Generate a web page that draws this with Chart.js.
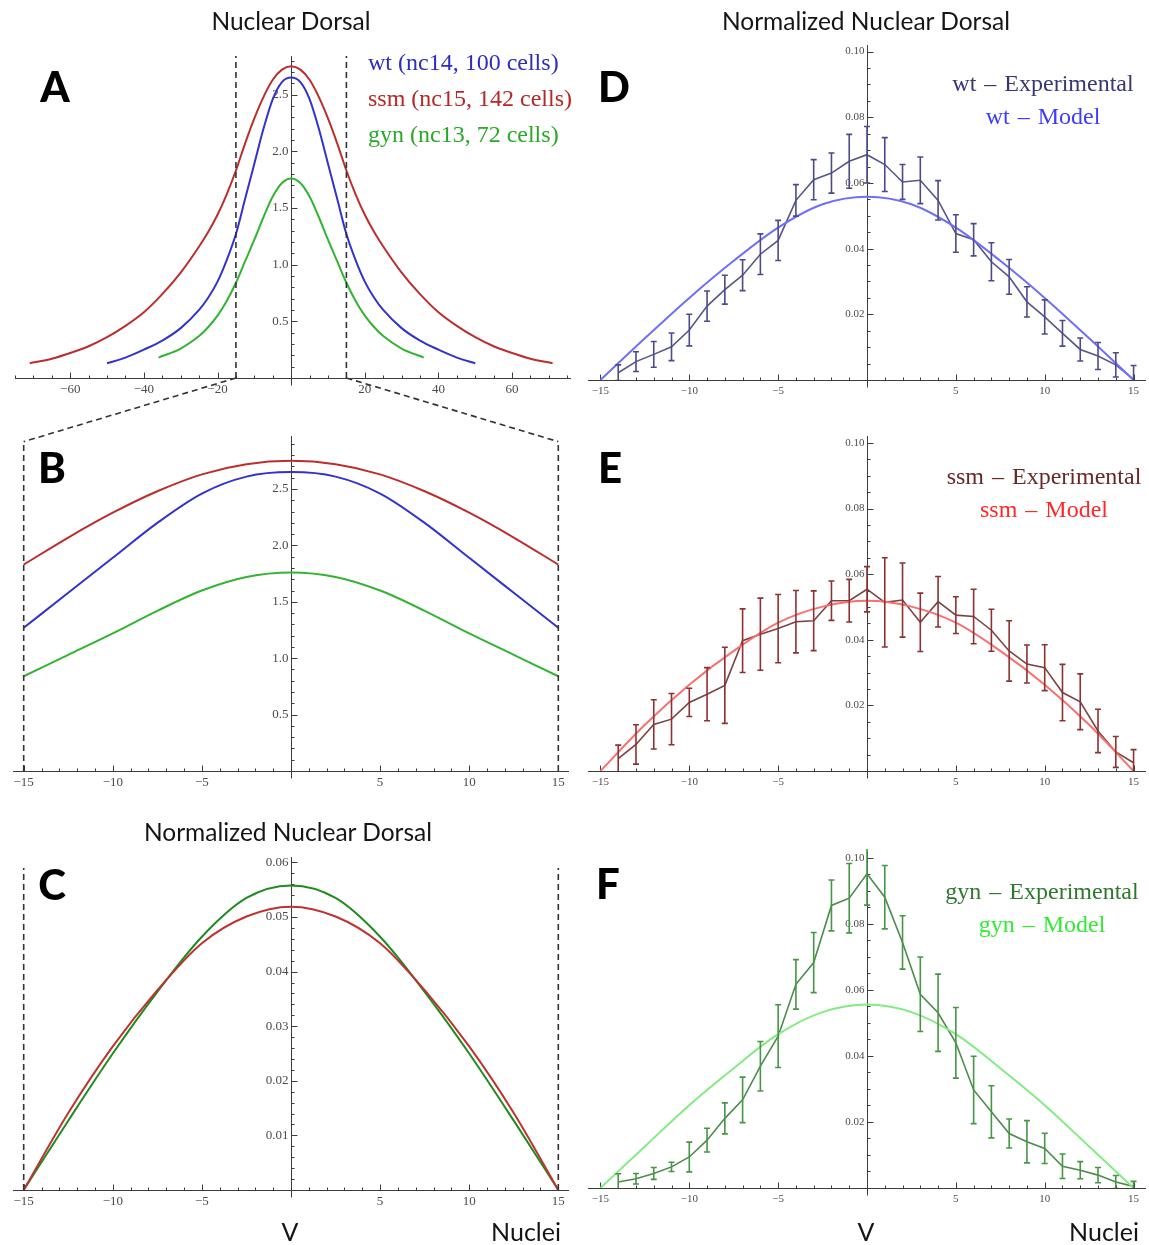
<!DOCTYPE html>
<html>
<head>
<meta charset="utf-8">
<script src="https://cdn.jsdelivr.net/npm/chart.js@4.4.1/dist/chart.umd.min.js"></script>
<style>
  body { margin: 0; background: #fff; }
  #figure { position: relative; width: 1149px; height: 1245px; overflow: hidden; background: #fff; }
  #figure canvas { position: absolute; }
  .txt { position: absolute; white-space: nowrap; line-height: 1; }
  .title { font-family: Lato, sans-serif; font-size: 24.5px; color: #151515; transform: translate(-50%, -50%); }
  .panel { font-family: Lato, sans-serif; font-weight: 900; font-size: 42px; color: #000; transform: translate(-50%, -50%); }
  .axislbl { font-family: Lato, sans-serif; font-size: 25px; color: #151515; transform: translate(-50%, -50%); }
  .key { font-family: "Liberation Serif", serif; font-size: 24px; }
  .keyL { transform: translate(0, -50%); }
  .keyC { transform: translate(-50%, -50%); }
</style>
</head>
<body>
<div id="figure">
  <canvas id="chartA" width="580" height="410" style="left:0;top:0"></canvas>
  <canvas id="chartB" width="580" height="380" style="left:0;top:420px"></canvas>
  <canvas id="chartC" width="580" height="445" style="left:0;top:800px"></canvas>
  <canvas id="chartD" width="569" height="410" style="left:580px;top:0"></canvas>
  <canvas id="chartE" width="569" height="380" style="left:580px;top:420px"></canvas>
  <canvas id="chartF" width="569" height="445" style="left:580px;top:800px"></canvas>
  <canvas id="zoomLines" width="1149" height="1245" style="left:0;top:0;pointer-events:none"></canvas>

  <div class="txt title" style="left:291px;top:21px">Nuclear Dorsal</div>
  <div class="txt title" style="left:866px;top:21px">Normalized Nuclear Dorsal</div>
  <div class="txt title" style="left:288px;top:832px">Normalized Nuclear Dorsal</div>

  <div class="txt panel" style="left:55px;top:86px">A</div>
  <div class="txt panel" style="left:52px;top:467px">B</div>
  <div class="txt panel" style="left:52px;top:884px">C</div>
  <div class="txt panel" style="left:614px;top:86px">D</div>
  <div class="txt panel" style="left:610px;top:467px">E</div>
  <div class="txt panel" style="left:608px;top:883px">F</div>

  <div class="txt key keyL" style="left:368px;top:62px;color:rgb(45,45,190)">wt (nc14, 100 cells)</div>
  <div class="txt key keyL" style="left:368px;top:98px;color:rgb(180,40,40)">ssm (nc15, 142 cells)</div>
  <div class="txt key keyL" style="left:368px;top:134px;color:rgb(40,170,40)">gyn (nc13, 72 cells)</div>

  <div class="txt key keyC" style="left:1043px;top:83px;color:rgb(55,55,115)">wt&#8196;–&#8196;Experimental</div>
  <div class="txt key keyC" style="left:1043px;top:116px;color:rgb(60,60,255)">wt&#8196;–&#8196;Model</div>
  <div class="txt key keyC" style="left:1044px;top:476px;color:rgb(105,40,40)">ssm&#8196;–&#8196;Experimental</div>
  <div class="txt key keyC" style="left:1044px;top:509px;color:rgb(255,40,40)">ssm&#8196;–&#8196;Model</div>
  <div class="txt key keyC" style="left:1042px;top:891px;color:rgb(45,120,45)">gyn&#8196;–&#8196;Experimental</div>
  <div class="txt key keyC" style="left:1042px;top:924px;color:rgb(50,235,50)">gyn&#8196;–&#8196;Model</div>

  <div class="txt axislbl" style="left:290px;top:1231px">V</div>
  <div class="txt axislbl" style="left:526px;top:1231px">Nuclei</div>
  <div class="txt axislbl" style="left:866px;top:1231px">V</div>
  <div class="txt axislbl" style="left:1104px;top:1231px">Nuclei</div>
</div>

<script>
// Nuclear Dorsal gradients, nuclei counted from the ventral midline
const wtX  = [-50,-45,-40,-35,-30,-25,-22.5,-20,-17.5,-15,-12.5,-10,-7.5,-5,-2.5,0,2.5,5,7.5,10,12.5,15,17.5,20,22.5,25,30,35,40,45,50];
const wtY  = [0.13,0.18,0.25,0.33,0.44,0.60,0.71,0.85,1.04,1.27,1.58,1.89,2.20,2.46,2.61,2.65,2.61,2.46,2.20,1.89,1.58,1.27,1.04,0.85,0.71,0.60,0.44,0.33,0.25,0.18,0.13];
const ssmX = [-71,-65,-60,-55,-50,-45,-40,-35,-30,-25,-22.5,-20,-17.5,-15,-12.5,-10,-7.5,-5,-2.5,0,2.5,5,7.5,10,12.5,15,17.5,20,22.5,25,30,35,40,45,50,55,60,65,71];
const ssmY = [0.13,0.17,0.22,0.28,0.36,0.46,0.58,0.74,0.93,1.16,1.29,1.44,1.62,1.83,2.07,2.29,2.48,2.63,2.72,2.75,2.72,2.63,2.48,2.29,2.07,1.83,1.62,1.44,1.29,1.16,0.93,0.74,0.58,0.46,0.36,0.28,0.22,0.17,0.13];
const gynX = [-36,-30,-25,-22.5,-20,-17.5,-15,-12.5,-10,-7.5,-5,-2.5,0,2.5,5,7.5,10,12.5,15,17.5,20,22.5,25,30,36];
const gynY = [0.18,0.26,0.37,0.45,0.55,0.68,0.84,1.03,1.22,1.42,1.60,1.72,1.76,1.72,1.60,1.42,1.22,1.03,0.84,0.68,0.55,0.45,0.37,0.26,0.18];

// normalized model profiles over the 30 ventral nuclei
const modelX   = [-15,-12.5,-10,-7.5,-5,-2.5,0,2.5,5,7.5,10,12.5,15];
const wtModel  = [0,0.0127,0.0250,0.0363,0.0464,0.0535,0.0558,0.0535,0.0464,0.0363,0.0250,0.0127,0];
const ssmModel = [0,0.0141,0.0263,0.0366,0.0452,0.0501,0.0519,0.0501,0.0452,0.0366,0.0263,0.0141,0];
const gynModel = [0,0.0126,0.0251,0.0363,0.0466,0.0533,0.0556,0.0533,0.0466,0.0363,0.0251,0.0126,0];

// normalized experimental means and errors, nuclei -14 .. 15
const nuclei  = [-14,-13,-12,-11,-10,-9,-8,-7,-6,-5,-4,-3,-2,-1,0,1,2,3,4,5,6,7,8,9,10,11,12,13,14,15];
const wtMean  = [0.0022,0.0056,0.0078,0.0101,0.0152,0.0225,0.0275,0.0319,0.0383,0.0425,0.0547,0.0610,0.0630,0.0666,0.0686,0.0656,0.0603,0.0608,0.0547,0.0446,0.0427,0.0360,0.0314,0.0238,0.0192,0.0142,0.0093,0.0073,0.0046,0.0002];
const wtErr   = [0.0024,0.0030,0.0039,0.0042,0.0048,0.0046,0.0044,0.0047,0.0062,0.0061,0.0048,0.0061,0.0061,0.0082,0.0086,0.0082,0.0053,0.0071,0.0060,0.0057,0.0049,0.0058,0.0053,0.0046,0.0052,0.0039,0.0035,0.0041,0.0037,0.0042];
const ssmMean = [0.0038,0.0081,0.0142,0.0158,0.0209,0.0234,0.0261,0.0397,0.0417,0.0434,0.0455,0.0458,0.0519,0.0519,0.0554,0.0514,0.0521,0.0453,0.0516,0.0475,0.0471,0.0429,0.0366,0.0326,0.0315,0.0239,0.0211,0.0122,0.0058,0.0025];
const ssmErr  = [0.0041,0.0060,0.0075,0.0078,0.0043,0.0081,0.0116,0.0097,0.0110,0.0104,0.0095,0.0091,0.0060,0.0065,0.0069,0.0136,0.0113,0.0089,0.0077,0.0056,0.0083,0.0064,0.0092,0.0058,0.0070,0.0086,0.0085,0.0066,0.0047,0.0040];
const gynMean = [0.0018,0.0028,0.0044,0.0064,0.0094,0.0145,0.0211,0.0267,0.0369,0.0460,0.0617,0.0683,0.0856,0.0878,0.0952,0.0881,0.0744,0.0587,0.0531,0.0440,0.0297,0.0231,0.0165,0.0140,0.0120,0.0066,0.0054,0.0039,0.0018,0.0005];
const gynErr  = [0.0025,0.0016,0.0018,0.0014,0.0045,0.0036,0.0047,0.0069,0.0075,0.0095,0.0075,0.0091,0.0077,0.0105,0.0095,0.0096,0.0081,0.0113,0.0117,0.0107,0.0102,0.0079,0.0044,0.0064,0.0046,0.0037,0.0026,0.0023,0.0020,0.0015];

// tick labels
const wideTicks   = [-60,-40,-20,20,40,60];
const nucleiTicks = [-15,-10,-5,5,10,15];
const dorsalTicks = [0.5,1.0,1.5,2.0,2.5];
const normTicksC  = [0.01,0.02,0.03,0.04,0.05,0.06];
const normTicks   = [0.02,0.04,0.06,0.08,0.10];

const zoomEdge = 15;

// Mathematica-style axes crossing at the origin, ticks pointing inward
const mathAxes = {
  id: 'mathAxes',
  beforeDatasetsDraw(chart, args, o) {
    const {ctx, chartArea} = chart;
    const xs = chart.scales.x, ys = chart.scales.y;
    const x0 = Math.round(xs.getPixelForValue(0)) + 0.5;
    const y0 = Math.round(ys.getPixelForValue(0)) + 0.5;
    ctx.save();
    ctx.strokeStyle = '#3c3c3c';
    ctx.lineWidth = 1;
    ctx.beginPath();
    ctx.moveTo(chartArea.left, y0); ctx.lineTo(chartArea.right, y0);
    ctx.moveTo(x0, chartArea.top); ctx.lineTo(x0, y0 + 7);
    ctx.stroke();

    const minor = (min, max, step, cb) => {
      const n0 = Math.ceil(min / step - 1e-6), n1 = Math.floor(max / step + 1e-6);
      for (let n = n0; n <= n1; n++) if (n !== 0) cb(n * step);
    };
    ctx.beginPath();
    minor(xs.min, xs.max, o.xMinor, v => {
      const px = Math.round(xs.getPixelForValue(v)) + 0.5;
      ctx.moveTo(px, y0); ctx.lineTo(px, y0 - 3);
    });
    minor(0, ys.max, o.yMinor, v => {
      const py = Math.round(ys.getPixelForValue(v)) + 0.5;
      ctx.moveTo(x0, py); ctx.lineTo(x0 + 3, py);
    });
    o.xTicks.forEach(v => {
      const px = Math.round(xs.getPixelForValue(v)) + 0.5;
      ctx.moveTo(px, y0); ctx.lineTo(px, y0 - 6);
    });
    o.yTicks.forEach(v => {
      const py = Math.round(ys.getPixelForValue(v)) + 0.5;
      ctx.moveTo(x0, py); ctx.lineTo(x0 + 6, py);
    });
    ctx.stroke();

    ctx.fillStyle = '#4f4a45';
    ctx.font = o.fontSize + 'px "Liberation Serif", serif';
    ctx.textAlign = 'center';
    ctx.textBaseline = 'top';
    o.xTicks.forEach(v => {
      ctx.fillText(String(v).replace('-', '\u2212'), xs.getPixelForValue(v), y0 + 5);
    });
    ctx.textAlign = 'right';
    ctx.textBaseline = 'middle';
    o.yTicks.forEach(v => {
      ctx.fillText(v.toFixed(o.yDigits), x0 - 3, ys.getPixelForValue(v));
    });
    ctx.restore();
  }
};

// vertical error bars with small caps, for datasets carrying an errors array
const errorBars = {
  id: 'errorBars',
  afterDatasetsDraw(chart) {
    const {ctx, chartArea} = chart;
    const xs = chart.scales.x, ys = chart.scales.y;
    chart.data.datasets.forEach(ds => {
      if (!ds.errors) return;
      ctx.save();
      ctx.beginPath();
      ctx.rect(chartArea.left, chartArea.top - 2, chartArea.right - chartArea.left, chartArea.bottom - chartArea.top + 2);
      ctx.clip();
      ctx.strokeStyle = ds.errorColor;
      ctx.lineWidth = 1.6;
      ctx.beginPath();
      ds.data.forEach((p, i) => {
        const e = ds.errors[i];
        const px = xs.getPixelForValue(p.x);
        const top = ys.getPixelForValue(p.y + e);
        const bot = ys.getPixelForValue(p.y - e);
        ctx.moveTo(px, top); ctx.lineTo(px, bot);
        ctx.moveTo(px - 3, top); ctx.lineTo(px + 3, top);
        ctx.moveTo(px - 3, bot); ctx.lineTo(px + 3, bot);
      });
      ctx.stroke();
      ctx.restore();
    });
  }
};

function points(xs, ys, keep) {
  const pts = xs.map((x, i) => ({x: x, y: ys[i]}));
  return keep ? pts.filter(p => Math.abs(p.x) <= keep) : pts;
}

function curve(data, color, width) {
  return {
    data: data,
    borderColor: color,
    borderWidth: width,
    pointRadius: 0,
    fill: false,
    cubicInterpolationMode: 'monotone'
  };
}

function experimental(means, errs, color, barColor) {
  return {
    data: points(nuclei, means),
    errors: errs,
    errorColor: barColor,
    borderColor: color,
    borderWidth: 1.6,
    pointRadius: 0,
    fill: false,
    tension: 0
  };
}

function dashed(x, top) {
  return {
    data: [{x: x, y: 0}, {x: x, y: top}],
    borderColor: '#333',
    borderWidth: 1.6,
    borderDash: [6, 4],
    pointRadius: 0,
    fill: false
  };
}

function makePanel(id, datasets, xRange, yRange, pad, axes) {
  return new Chart(document.getElementById(id), {
    type: 'line',
    data: { datasets: datasets },
    options: {
      responsive: false,
      animation: false,
      devicePixelRatio: 1,
      layout: { padding: pad },
      plugins: {
        legend: { display: false },
        tooltip: { enabled: false },
        mathAxes: axes
      },
      scales: {
        x: { type: 'linear', min: xRange[0], max: xRange[1], display: false },
        y: { type: 'linear', min: yRange[0], max: yRange[1], display: false }
      }
    },
    plugins: [mathAxes, errorBars]
  });
}

const RED = 'rgb(188,45,45)', BLUE = 'rgb(50,50,205)', GREEN = 'rgb(50,180,50)';

const chartA = makePanel('chartA', [
  dashed(-zoomEdge, 2.84), dashed(zoomEdge, 2.84),
  curve(points(ssmX, ssmY), RED, 2),
  curve(points(wtX, wtY), BLUE, 2),
  curve(points(gynX, gynY), GREEN, 2)
], [-75, 76], [0, 2.84], {left: 15, right: 9, top: 56, bottom: 32},
  {xTicks: wideTicks, xMinor: 5, yTicks: dorsalTicks, yMinor: 0.1, yDigits: 1, fontSize: 13});

const chartB = makePanel('chartB', [
  dashed(-zoomEdge, 2.92), dashed(zoomEdge, 2.92),
  curve(points(ssmX, ssmY, zoomEdge), RED, 2),
  curve(points(wtX, wtY, zoomEdge), BLUE, 2),
  curve(points(gynX, gynY, zoomEdge), GREEN, 2)
], [-15.6, 15.6], [0, 2.97], {left: 13, right: 11, top: 16, bottom: 29},
  {xTicks: nucleiTicks, xMinor: 1, yTicks: dorsalTicks, yMinor: 0.1, yDigits: 1, fontSize: 13});

const chartC = makePanel('chartC', [
  dashed(-zoomEdge, 0.059), dashed(zoomEdge, 0.059),
  curve(points(modelX, ssmModel), 'rgb(190,50,50)', 2),
  curve(points(modelX, wtModel), 'rgb(30,140,30)', 2)
], [-15.6, 15.6], [0, 0.061], {left: 13, right: 11, top: 57, bottom: 55},
  {xTicks: nucleiTicks, xMinor: 1, yTicks: normTicksC, yMinor: 0.002, yDigits: 2, fontSize: 13});

const chartD = makePanel('chartD', [
  curve(points(modelX, wtModel), 'rgb(110,110,250)', 2),
  experimental(wtMean, wtErr, 'rgb(85,85,140)', 'rgb(75,75,140)')
], [-15.7, 15.7], [0, 0.102], {left: 8, right: 3, top: 45, bottom: 30},
  {xTicks: nucleiTicks, xMinor: 1, yTicks: normTicks, yMinor: 0.005, yDigits: 2, fontSize: 11});

const chartE = makePanel('chartE', [
  curve(points(modelX, ssmModel), 'rgb(250,110,110)', 2),
  experimental(ssmMean, ssmErr, 'rgb(125,65,65)', 'rgb(140,50,50)')
], [-15.7, 15.7], [0, 0.1021], {left: 8, right: 3, top: 16, bottom: 29},
  {xTicks: nucleiTicks, xMinor: 1, yTicks: normTicks, yMinor: 0.005, yDigits: 2, fontSize: 11});

const chartF = makePanel('chartF', [
  curve(points(modelX, gynModel), 'rgb(130,235,130)', 2),
  experimental(gynMean, gynErr, 'rgb(75,140,75)', 'rgb(70,150,70)')
], [-15.7, 15.7], [0, 0.1021], {left: 8, right: 3, top: 51, bottom: 57},
  {xTicks: nucleiTicks, xMinor: 1, yTicks: normTicks, yMinor: 0.005, yDigits: 2, fontSize: 11});

// dashed connectors from the +/-15 window in A down to the zoomed view in B
function pagePoint(chart, x, y) {
  const c = chart.canvas;
  return [c.offsetLeft + chart.scales.x.getPixelForValue(x), c.offsetTop + chart.scales.y.getPixelForValue(y)];
}
const lines = document.getElementById('zoomLines').getContext('2d');
lines.strokeStyle = '#333';
lines.lineWidth = 1.6;
lines.setLineDash([6, 4]);
[-zoomEdge, zoomEdge].forEach(edge => {
  const from = pagePoint(chartA, edge, 0);
  const to = pagePoint(chartB, edge, 2.92);
  lines.beginPath();
  lines.moveTo(from[0], from[1]);
  lines.lineTo(to[0], to[1]);
  lines.stroke();
});
</script>
</body>
</html>
